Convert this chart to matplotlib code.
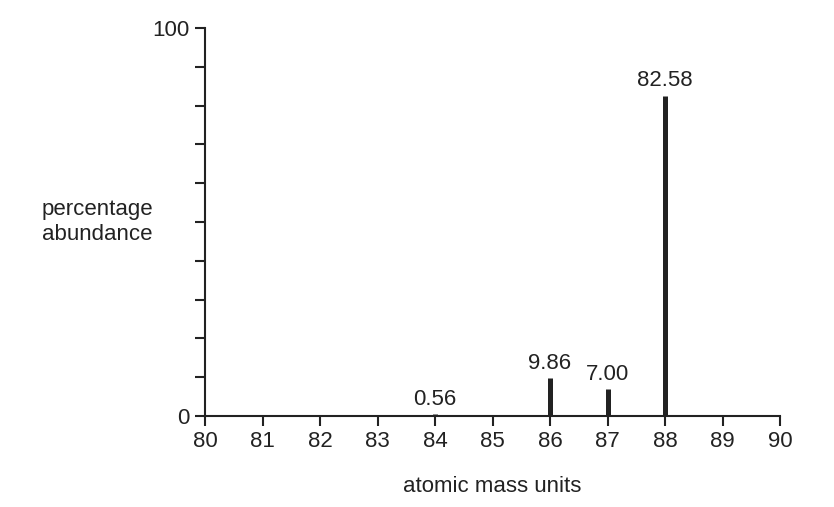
import matplotlib
matplotlib.use("Agg")
from matplotlib import pyplot as plt

plt.rcParams["font.family"] = ["Liberation Sans", "DejaVu Sans"]

masses = [84, 86, 87, 88]
abundance = [0.56, 9.86, 7.00, 82.58]
labels = ["0.56", "9.86", "7.00", "82.58"]

fig = plt.figure(figsize=(8.34, 5.07), dpi=100)
ax = fig.add_axes([0.2458, 0.1795, 0.6895, 0.7653])

ax.vlines(masses, 0, abundance, color="#222222", linewidth=3.6)
for m, a, t in zip(masses, abundance, labels):
    ax.annotate(t, (m, a), xytext=(0, 3), textcoords="offset points",
                ha="center", va="bottom", fontsize=16, color="#222222")

ax.set_xlim(80, 90)
ax.set_ylim(0, 100)
ax.set_xticks(range(80, 91))
ax.set_yticks(range(0, 101, 10))
ax.set_yticklabels(["0"] + [""] * 9 + ["100"])
ax.tick_params(direction="out", length=7, width=1.5, colors="#222222",
               labelsize=16, pad=4)
ax.spines["top"].set_visible(False)
ax.spines["right"].set_visible(False)
for s in ["left", "bottom"]:
    ax.spines[s].set_linewidth(1.5)
    ax.spines[s].set_color("#222222")

fig.text(42 / 834, 1 - 222 / 507, "percentage\nabundance", ha="left",
         va="center", fontsize=16, color="#222222", linespacing=1.25)
ax.set_xlabel("atomic mass units", fontsize=16, color="#222222", labelpad=17)

fig.savefig("out.png", dpi=100)
